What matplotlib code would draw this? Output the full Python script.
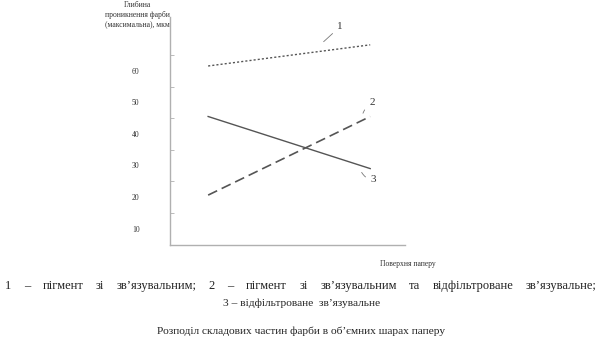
import matplotlib
matplotlib.use("Agg")
import matplotlib.pyplot as plt

plt.rcParams['font.family'] = ['Liberation Serif', 'DejaVu Serif']

# positions along paper depth (nominal) and penetration depths
x_pos = [1.0, 2.0]
line1 = [61.5, 68.2]   # pigment with binder
line2 = [20.6, 45.5]   # pigment with binder + filtered binder
line3 = [45.5, 29.0]   # filtered binder
y_ticks = [10, 20, 30, 40, 50, 60]
y_minor = [15, 25, 35, 45, 55, 65]

caption1 = '1 – пігмент зі зв’язувальним; 2 – пігмент зі зв’язувальним та відфільтроване зв’язувальне;'
caption2 = '3 – відфільтроване  зв’язувальне'
title = 'Розподіл складових частин фарби в об’ємних шарах паперу'

W, H = 603, 348
fig = plt.figure(figsize=(W / 100, H / 100), dpi=100)
ax = fig.add_axes([0.282, 0.296, 0.390, 0.655])

col = '#555555'
ax.plot(x_pos, line1, color=col, lw=1.0, linestyle=(0, (1.5, 1.5)))
ax.plot(x_pos, line2, color=col, lw=1.2, linestyle=(0, (6, 3)))
ax.plot(x_pos, line3, color=col, lw=1.0, linestyle='-')

ax.set_xlim(0.765, 2.216)
ax.set_ylim(4.8, 77.0)

for s in ['top', 'right']:
    ax.spines[s].set_visible(False)
for s in ['left', 'bottom']:
    ax.spines[s].set_color('#b0b0b0')
    ax.spines[s].set_linewidth(1.0)

ax.set_xticks([])
ax.set_yticks(y_ticks)
ax.set_yticklabels([str(v) for v in y_ticks], fontsize=5.5, color='#333333')
ax.tick_params(axis='y', which='major', length=0, pad=22)
ax.set_yticks(y_minor, minor=True)
ax.tick_params(axis='y', which='minor', direction='in', length=3, color='#b0b0b0')

# curve labels with leader lines
kw = dict(fontsize=8, color='#333333', ha='center', va='center')
ax.annotate('1', xy=(1.70, 68.6), xytext=(1.815, 74.0),
            arrowprops=dict(arrowstyle='-', color='#777777', lw=0.6), **kw)
ax.annotate('2', xy=(1.95, 45.7), xytext=(2.01, 49.8),
            arrowprops=dict(arrowstyle='-', color='#777777', lw=0.6,
                            connectionstyle='arc3,rad=0.2'), **kw)
ax.annotate('3', xy=(1.94, 28.6), xytext=(2.02, 25.4),
            arrowprops=dict(arrowstyle='-', color='#777777', lw=0.6,
                            connectionstyle='arc3,rad=-0.3'), **kw)

fig.text(137 / W, 1 - 15 / H,
         'Глибина\nпроникнення фарби\n(максимальна), мкм',
         fontsize=5.5, ha='center', va='center', linespacing=1.4, color='#333333')
fig.text(408 / W, 1 - 264 / H, 'Поверхня паперу',
         fontsize=5.5, ha='center', va='center', color='#333333')

# first caption line is justified across the page
fs = 9.0
renderer = fig.canvas.get_renderer()
words = caption1.split(' ')
pieces = [fig.text(0, 1 - 286 / H, w, fontsize=fs, va='center', color='#222222')
          for w in words]
widths = [p.get_window_extent(renderer).width for p in pieces]
left, right = 5, 597
gap = (right - left - sum(widths)) / (len(words) - 1)
xpix = left
for p, w in zip(pieces, widths):
    p.set_x(xpix / W)
    xpix += w + gap

fig.text(0.5, 1 - 303 / H, caption2,
         fontsize=8.2, ha='center', va='center', color='#222222')
fig.text(0.5, 1 - 331 / H, title,
         fontsize=8.2, ha='center', va='center', color='#222222')

fig.savefig('out.png', dpi=100)
